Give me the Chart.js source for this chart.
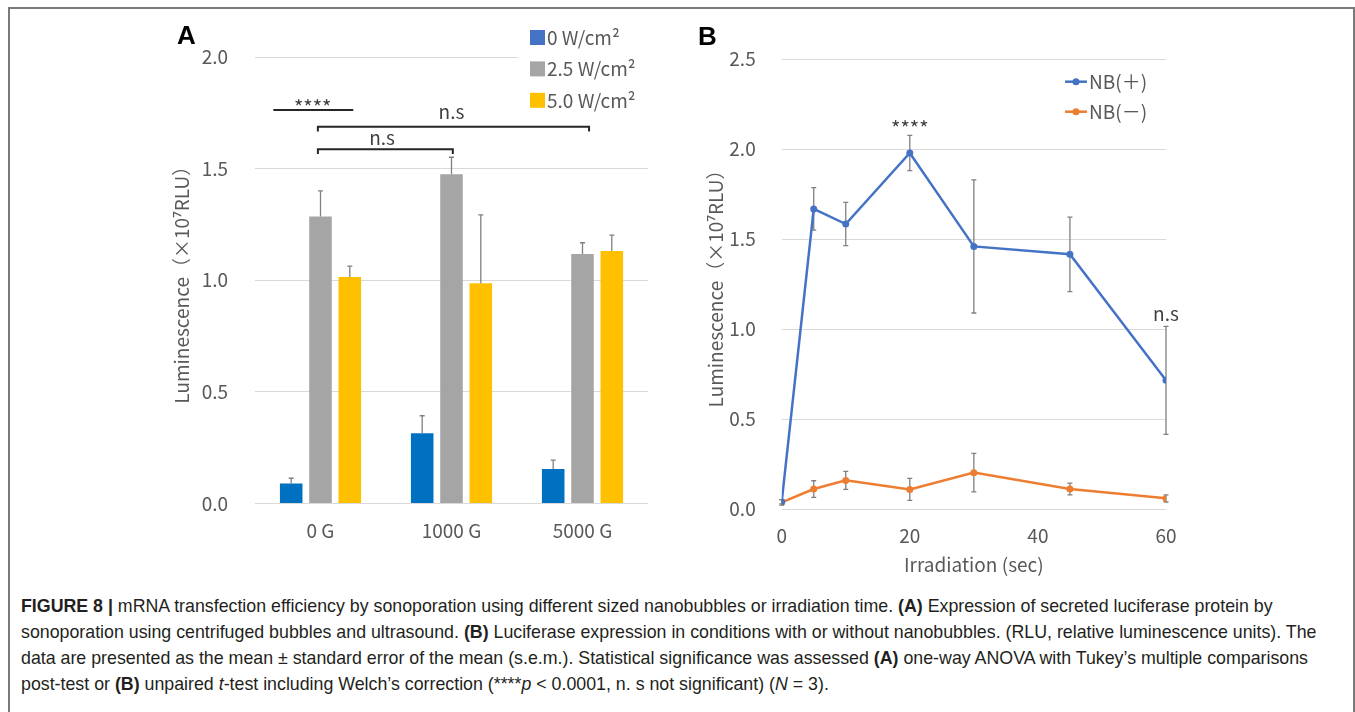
<!DOCTYPE html>
<html>
<head>
<meta charset="utf-8">
<script src="https://cdn.jsdelivr.net/npm/chart.js@4.4.0/dist/chart.umd.min.js"></script>
<style>
  html, body { margin: 0; padding: 0; background: #fff; overflow: hidden; }
  body { width: 1355px; height: 712px; position: relative; }
  #frame { position: absolute; left: 8px; top: 7px; width: 1347px; height: 740px; box-sizing: border-box; border: 2px solid #7a7a7a; }
  canvas { position: absolute; }
  #chartA { left: 150px; top: 10px; }
  #chartB { left: 690px; top: 10px; }
  .panel { position: absolute; font: bold 26px 'Liberation Sans', Arial, sans-serif; line-height: 1; color: #000; }
  #caption { position: absolute; left: 21px; top: 593px; font: 17.8px/26px 'Liberation Sans', Arial, sans-serif; color: #231f20; white-space: nowrap; }
</style>
</head>
<body>
<div id="frame"></div>
<canvas id="chartA" width="520" height="570"></canvas>
<canvas id="chartB" width="540" height="570"></canvas>
<div class="panel" style="left:177px; top:22px;">A</div>
<div class="panel" style="left:698px; top:23px;">B</div>
<div id="caption"><b>FIGURE 8 |</b> mRNA transfection efficiency by sonoporation using different sized nanobubbles or irradiation time. <b>(A)</b> Expression of secreted luciferase protein by<br>sonoporation using centrifuged bubbles and ultrasound. <b>(B)</b> Luciferase expression in conditions with or without nanobubbles. (RLU, relative luminescence units). The<br>data are presented as the mean ± standard error of the mean (s.e.m.). Statistical significance was assessed <b>(A)</b> one-way ANOVA with Tukey’s multiple comparisons<br>post-test or <b>(B)</b> unpaired <i>t</i>-test including Welch’s correction (****<i>p</i> &lt; 0.0001, n. s not significant) (<i>N</i> = 3).</div>

<script>
Chart.defaults.font.family = "'Noto Sans CJK JP', 'Noto Sans', sans-serif";
Chart.defaults.color = '#595959';

// panel A: luminescence per centrifugation, three ultrasound intensities
const groupLabels = ['0 G', '1000 G', '5000 G'];
const power0 = [0.09, 0.315, 0.155];
const power0Err = [0.023, 0.078, 0.039];
const power25 = [1.285, 1.475, 1.118];
const power25Err = [0.115, 0.076, 0.05];
const power50 = [1.015, 0.987, 1.131];
const power50Err = [0.048, 0.306, 0.071];

// panel B: luminescence vs irradiation time
const seconds = [0, 5, 10, 20, 30, 45, 60];
const nbPlus = [0.04, 1.667, 1.583, 1.978, 1.459, 1.415, 0.715];
const nbPlusErr = [0.012, 0.118, 0.12, 0.098, 0.37, 0.207, 0.30];
const nbMinus = [0.037, 0.111, 0.159, 0.109, 0.202, 0.111, 0.059];
const nbMinusErr = [0.015, 0.046, 0.05, 0.061, 0.107, 0.033, 0.02];

const yTitle = 'Luminescence（×10⁷RLU）';


function drawErrors(chart, opts) {
  const ctx = chart.ctx;
  const yScale = chart.scales.y;
  ctx.save();
  ctx.strokeStyle = opts.color;
  ctx.lineWidth = opts.width;
  chart.data.datasets.forEach((ds, i) => {
    if (!ds.errors) return;
    chart.getDatasetMeta(i).data.forEach((el, j) => {
      const d = ds.data[j];
      const v = typeof d === 'object' ? d.y : d;
      const top = yScale.getPixelForValue(v + ds.errors[j]);
      const bot = yScale.getPixelForValue(opts.plusOnly ? v : v - ds.errors[j]);
      ctx.beginPath();
      ctx.moveTo(el.x, top);
      ctx.lineTo(el.x, bot);
      ctx.moveTo(el.x - opts.cap, top);
      ctx.lineTo(el.x + opts.cap, top);
      if (!opts.plusOnly) {
        ctx.moveTo(el.x - opts.cap, bot);
        ctx.lineTo(el.x + opts.cap, bot);
      }
      ctx.stroke();
    });
  });
  ctx.restore();
}

const errorBars = {
  id: 'errorBars',
  beforeDatasetsDraw(chart, args, opts) {
    if (opts.under) drawErrors(chart, opts);
  },
  afterDatasetsDraw(chart, args, opts) {
    if (!opts.under) drawErrors(chart, opts);
  }
};


// legend drawn inside the plot, like the spreadsheet one
const sideLegend = {
  id: 'sideLegend',
  beforeDatasetsDraw(chart, args, o) {
    const ctx = chart.ctx;
    ctx.save();
    if (o.clear) {
      ctx.fillStyle = '#fff';
      ctx.fillRect(o.clear[0], o.clear[1], o.clear[2], o.clear[3]);
    }
    ctx.font = o.font;
    ctx.textBaseline = 'middle';
    chart.data.datasets.forEach((ds, i) => {
      const cy = o.y + i * o.step;
      const col = ds.legendColor || ds.borderColor || ds.backgroundColor;
      if (o.kind === 'box') {
        ctx.fillStyle = col;
        ctx.fillRect(o.x, cy - o.size / 2, o.size, o.size);
      } else {
        ctx.strokeStyle = col;
        ctx.lineWidth = 2.5;
        ctx.beginPath();
        ctx.moveTo(o.x, cy);
        ctx.lineTo(o.x + o.size, cy);
        ctx.stroke();
        ctx.fillStyle = col;
        ctx.beginPath();
        ctx.arc(o.x + o.size / 2, cy, 3.5, 0, Math.PI * 2);
        ctx.fill();
      }
      ctx.fillStyle = o.color;
      ctx.fillText(ds.label, o.textX, cy);
    });
    ctx.restore();
  }
};


// significance marks, placed in data units
const notes = {
  id: 'notes',
  afterDatasetsDraw(chart, args, o) {
    const ctx = chart.ctx;
    const x = chart.scales.x, y = chart.scales.y;
    ctx.save();
    ctx.strokeStyle = o.lineColor;
    ctx.lineWidth = 2;
    (o.lines || []).forEach(l => {
      const x1 = x.getPixelForValue(l.from);
      const x2 = x.getPixelForValue(l.to);
      const py = y.getPixelForValue(l.y);
      const end = l.drop ? y.getPixelForValue(l.y - l.drop) : py;
      ctx.beginPath();
      ctx.moveTo(x1, end);
      ctx.lineTo(x1, py);
      ctx.lineTo(x2, py);
      ctx.lineTo(x2, end);
      ctx.stroke();
    });
    ctx.fillStyle = o.textColor;
    ctx.textAlign = 'center';
    ctx.textBaseline = 'alphabetic';
    (o.texts || []).forEach(t => {
      ctx.font = t.size + "px 'Noto Sans CJK JP', sans-serif";
      ctx.fillText(t.text, x.getPixelForValue(t.x), y.getPixelForValue(t.y));
    });
    ctx.restore();
  }
};


new Chart(document.getElementById('chartA'), {
  type: 'bar',
  data: {
    labels: groupLabels,
    datasets: [
      { label: '0 W/cm²', data: power0, errors: power0Err, backgroundColor: '#0070C0', legendColor: '#4472C4' },
      { label: '2.5 W/cm²', data: power25, errors: power25Err, backgroundColor: '#A5A5A5' },
      { label: '5.0 W/cm²', data: power50, errors: power50Err, backgroundColor: '#FFC000' }
    ]
  },
  options: {
    responsive: false,
    animation: false,
    layout: { padding: { left: 0, top: 47, right: 22, bottom: 26.5 } },
    datasets: { bar: { categoryPercentage: 0.671, barPercentage: 0.77 } },
    plugins: {
      legend: { display: false },
      tooltip: { enabled: false },
      errorBars: { color: '#808080', width: 1.3, cap: 2.5, plusOnly: true },
      sideLegend: {
        kind: 'box', x: 380, y: 27.5, step: 31.4, size: 15, textX: 397,
        font: "19px 'Noto Sans CJK JP', sans-serif", color: '#595959',
        clear: [368, 12, 150, 95]
      },
      notes: {
        lineColor: '#262626', textColor: '#404040',
        lines: [
          { from: -0.36, to: 0.25, y: 1.763 },
          { from: -0.02, to: 2.05, y: 1.688, drop: 0.022 },
          { from: -0.02, to: 1.01, y: 1.587, drop: 0.022 }
        ],
        texts: [
          { text: '****', x: -0.06, y: 1.742, size: 20 },
          { text: 'n.s', x: 1.0, y: 1.7226, size: 19 },
          { text: 'n.s', x: 0.47, y: 1.606, size: 19 }
        ]
      }
    },
    scales: {
      x: {
        grid: { display: false },
        border: { display: false },
        ticks: { padding: 8, font: { size: 19 } },
        afterFit: s => { s.height = 50; }
      },
      y: {
        min: 0,
        max: 2,
        ticks: { stepSize: 0.5, padding: 27, font: { size: 19 }, callback: v => v.toFixed(1) },
        grid: { color: '#d9d9d9', drawTicks: false },
        border: { display: false },
        title: { display: true, text: yTitle, font: { size: 19 }, padding: { top: 20, bottom: 0 } },
        afterFit: s => { s.width = 105; }
      }
    }
  },
  plugins: [errorBars, sideLegend, notes]
});


new Chart(document.getElementById('chartB'), {
  type: 'line',
  data: {
    datasets: [
      {
        label: 'NB(＋)',
        data: seconds.map((s, i) => ({ x: s, y: nbPlus[i] })),
        errors: nbPlusErr,
        borderColor: '#4472C4',
        backgroundColor: '#4472C4'
      },
      {
        label: 'NB(－)',
        data: seconds.map((s, i) => ({ x: s, y: nbMinus[i] })),
        errors: nbMinusErr,
        borderColor: '#ED7D31',
        backgroundColor: '#ED7D31'
      }
    ]
  },
  options: {
    responsive: false,
    animation: false,
    layout: { padding: { left: 0, top: 49, right: 64, bottom: 1 } },
    datasets: { line: { borderWidth: 2.5, pointRadius: 3.5, pointBorderWidth: 0, tension: 0 } },
    plugins: {
      legend: { display: false },
      tooltip: { enabled: false },
      errorBars: { color: '#808080', width: 1.3, cap: 2.5, under: true },
      sideLegend: {
        kind: 'line', x: 375, y: 71.7, step: 30, size: 22, textX: 399,
        font: "19px 'Noto Sans CJK JP', sans-serif", color: '#595959'
      },
      notes: {
        lineColor: '#262626', textColor: '#404040',
        texts: [
          { text: '****', x: 20, y: 2.072, size: 20 },
          { text: 'n.s', x: 60, y: 1.046, size: 19 }
        ]
      }
    },
    scales: {
      x: {
        type: 'linear',
        min: 0,
        max: 60,
        grid: { display: false },
        border: { display: false },
        ticks: { stepSize: 20, padding: 7, font: { size: 19 } },
        title: { display: true, text: 'Irradiation (sec)', font: { size: 19 }, padding: { top: 0, bottom: 2.6 } },
        afterFit: s => { s.height = 70; }
      },
      y: {
        min: 0,
        max: 2.5,
        ticks: { stepSize: 0.5, padding: 26, font: { size: 19 }, callback: v => v.toFixed(1) },
        grid: { color: '#d9d9d9', drawTicks: false },
        border: { display: false },
        title: { display: true, text: yTitle, font: { size: 19 }, padding: { top: 14.6, bottom: 0 } },
        afterFit: s => { s.width = 91.7; }
      }
    }
  },
  plugins: [errorBars, sideLegend, notes]
});
</script>
</body>
</html>
